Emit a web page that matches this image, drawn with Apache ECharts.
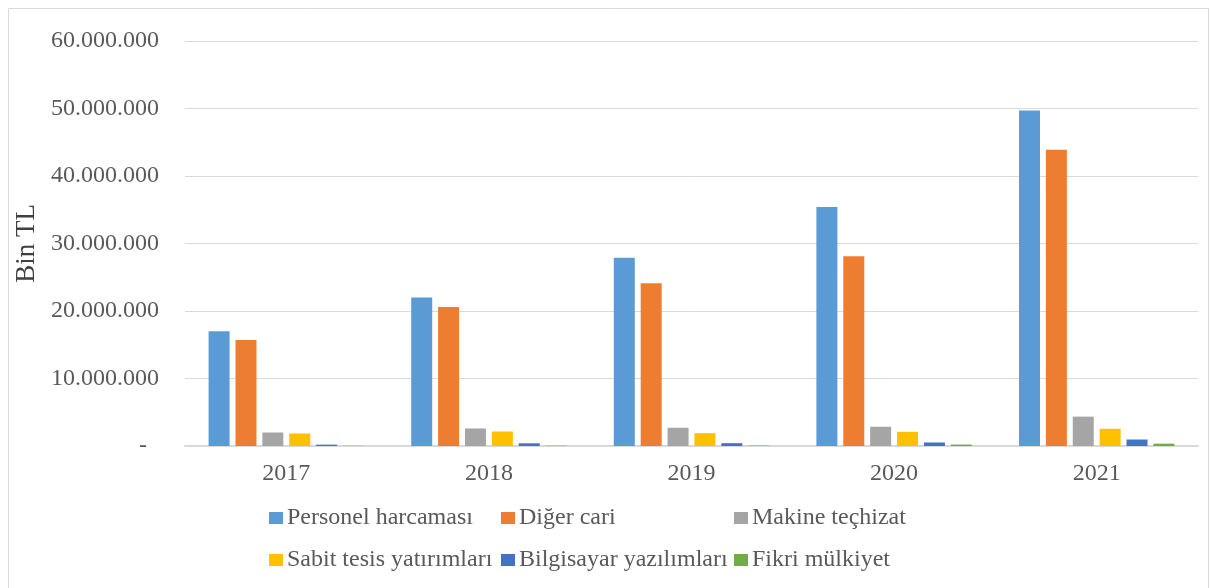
<!DOCTYPE html>
<html>
<head>
<meta charset="utf-8">
<script src="https://cdn.jsdelivr.net/npm/echarts@6/dist/echarts.min.js"></script>
<style>
  html, body { margin: 0; padding: 0; background: #fff; }
  #chart { width: 1210px; height: 588px; }
</style>
</head>
<body>
<div id="chart"></div>
<script>
// yıllar
const years = ['2017', '2018', '2019', '2020', '2021'];

// seri değerleri (bin TL)
const personel = [17000000, 22000000, 27900000, 35400000, 49700000];
const digerCari = [15700000, 20600000, 24100000, 28100000, 43900000];
const makine = [2000000, 2600000, 2700000, 2850000, 4350000];
const sabitTesis = [1850000, 2150000, 1900000, 2100000, 2550000];
const bilgisayar = [200000, 400000, 420000, 520000, 960000];
const fikri = [30000, 50000, 60000, 220000, 350000];

const seriesNames = [
  'Personel harcaması',
  'Diğer cari',
  'Makine teçhizat',
  'Sabit tesis yatırımları',
  'Bilgisayar yazılımları',
  'Fikri mülkiyet'
];
const seriesData = [personel, digerCari, makine, sabitTesis, bilgisayar, fikri];
const colors = ['#5B9BD5', '#ED7D31', '#A5A5A5', '#FFC000', '#4472C4', '#70AD47'];

const font = 'Liberation Serif, Times New Roman, serif';
const textColor = '#595959';

// lejant konumları (Excel düzenine göre)
const legendPos = [
  { left: 269, top: 506 },
  { left: 501, top: 506 },
  { left: 734, top: 506 },
  { left: 269, top: 548 },
  { left: 501, top: 548 },
  { left: 734, top: 548 }
];

var chartDom = document.getElementById('chart');
var myChart = echarts.init(chartDom);

const fmt = (v) => {
  if (v === 0) return '-  ';
  return String(v).replace(/\B(?=(\d{3})+(?!\d))/g, '.');
};

const option = {
  animation: false,
  color: colors,
  textStyle: { fontFamily: font },
  graphic: [
    {
      type: 'rect',
      shape: { x: 8.5, y: 8.5, width: 1200, height: 590 },
      style: { fill: 'none', stroke: '#d9d9d9', lineWidth: 1 }
    }
  ],
  grid: {
    left: 185,
    right: 12,
    top: 41,
    bottom: 142
  },
  legend: seriesNames.map((name, i) => ({
    data: [name],
    left: legendPos[i].left,
    top: legendPos[i].top,
    padding: 0,
    icon: 'rect',
    itemWidth: 14,
    itemHeight: 12,
    itemGap: 0,
    selectedMode: false,
    textStyle: {
      fontFamily: font,
      fontSize: 24,
      color: textColor,
      padding: [0, 0, 0, -1]
    }
  })),
  xAxis: {
    type: 'category',
    data: years,
    axisLine: { lineStyle: { color: '#d9d9d9', width: 2 } },
    axisTick: { show: false },
    axisLabel: {
      fontFamily: font,
      fontSize: 24,
      color: textColor,
      margin: 16
    }
  },
  yAxis: {
    type: 'value',
    min: 0,
    max: 60000000,
    interval: 10000000,
    name: 'Bin TL',
    nameLocation: 'middle',
    nameGap: 143,
    nameTextStyle: {
      fontFamily: font,
      fontSize: 27,
      color: '#404040'
    },
    axisLine: { show: false },
    axisTick: { show: false },
    splitLine: { lineStyle: { color: '#d9d9d9', width: 1 } },
    axisLabel: {
      fontFamily: font,
      fontSize: 24,
      color: textColor,
      margin: 26,
      formatter: fmt
    }
  },
  series: seriesNames.map((name, i) => ({
    name,
    type: 'bar',
    data: seriesData[i],
    barWidth: 21,
    barGap: '28%',
    itemStyle: { color: colors[i] }
  }))
};
myChart.setOption(option);
</script>
</body>
</html>
